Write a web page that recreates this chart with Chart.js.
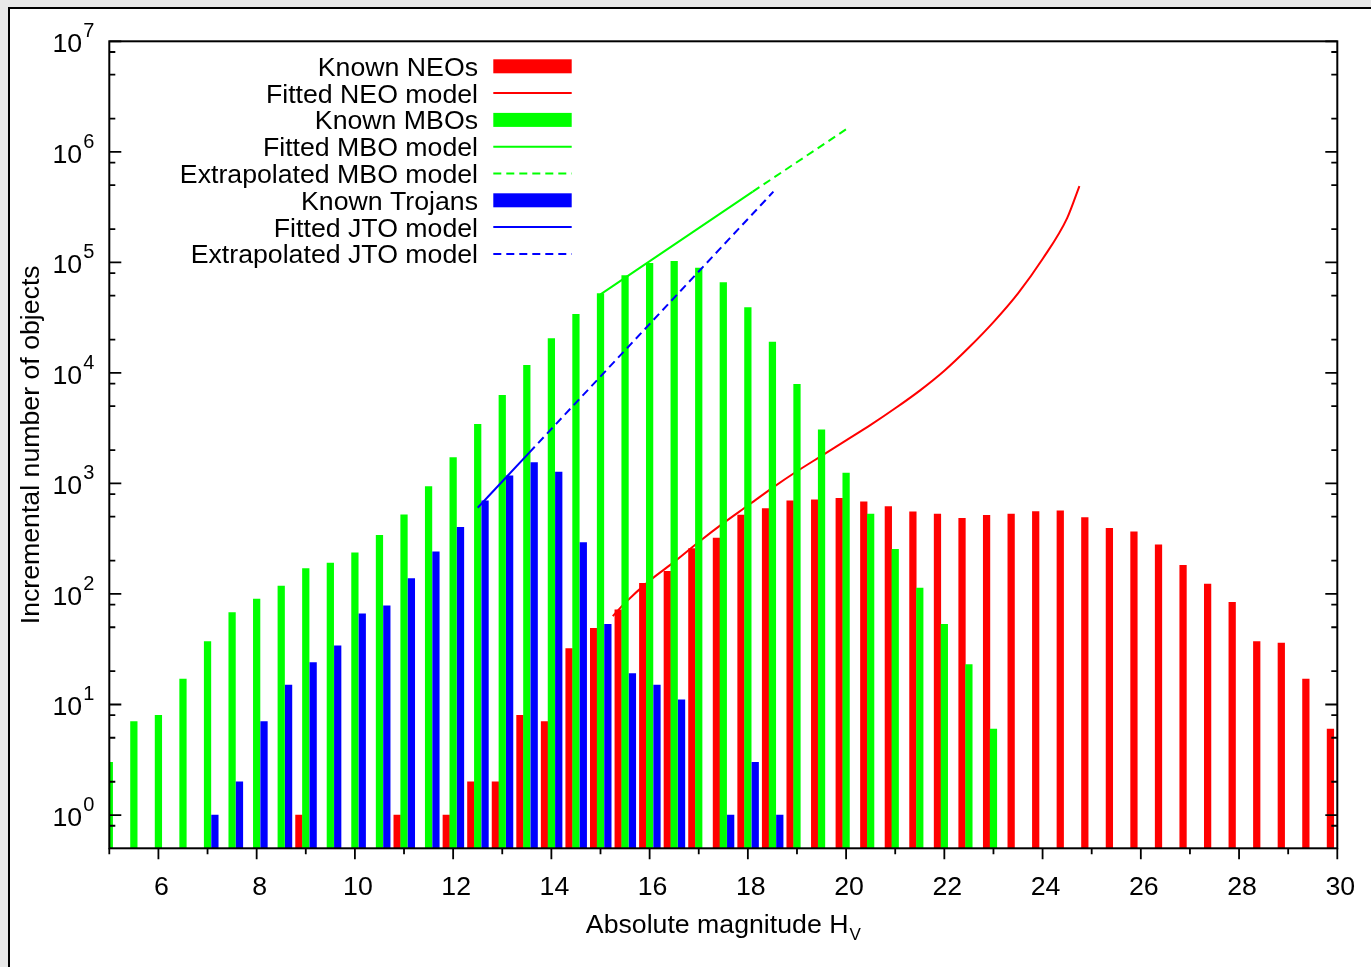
<!DOCTYPE html>
<html>
<head>
<meta charset="utf-8">
<script src="https://cdn.jsdelivr.net/npm/chart.js@4.4.1/dist/chart.umd.min.js"></script>
<style>
  html, body { margin: 0; padding: 0; background: #e8e8e8; width: 1371px; height: 967px; overflow: hidden; }
  #panel { position: absolute; left: 8px; top: 7px; width: 1363px; height: 960px; background: #fff;
           border-left: 2px solid #000; border-top: 2px solid #000; }
  #c { position: absolute; left: 0; top: 0; }
</style>
</head>
<body>
<div id="panel"></div>
<canvas id="c" width="1371" height="967"></canvas>
<script>
// ---------------- data ----------------
const seriesLabels = ['Known NEOs', 'Fitted NEO model', 'Known MBOs', 'Fitted MBO model',
  'Extrapolated MBO model', 'Known Trojans', 'Fitted JTO model', 'Extrapolated JTO model'];

// Known NEOs (bin centre H, count)
const neoH = [9.0, 11.0, 12.0, 12.5, 13.0, 13.5, 14.0, 14.5, 15.0, 15.5, 16.0, 16.5, 17.0, 17.5, 18.0, 18.5,
  19.0, 19.5, 20.0, 20.5, 21.0, 21.5, 22.0, 22.5, 23.0, 23.5, 24.0, 24.5, 25.0, 25.5, 26.0, 26.5, 27.0,
  27.5, 28.0, 28.5, 29.0, 29.5, 30.0];
const neoN = [1, 1, 1, 2, 2, 8, 7, 32, 49, 72, 125, 160, 258, 320, 516, 593,
  695, 709, 735, 680, 617, 552, 527, 484, 515, 527, 557, 565, 492, 393, 364, 278, 182,
  123, 84, 37, 36, 17, 6];

// Known MBOs
const mboH = [5.0, 5.5, 6.0, 6.5, 7.0, 7.5, 8.0, 8.5, 9.0, 9.5, 10.0, 10.5, 11.0, 11.5, 12.0, 12.5,
  13.0, 13.5, 14.0, 14.5, 15.0, 15.5, 16.0, 16.5, 17.0, 17.5, 18.0, 18.5, 19.0, 19.5, 20.0, 20.5,
  21.0, 21.5, 22.0, 22.5, 23.0];
const mboN = [3, 7, 8, 17, 37, 68, 90, 118, 170, 190, 235, 340, 519, 935, 1714, 3430,
  6270, 11700, 20400, 33900, 52100, 76000, 98000, 102000, 89000, 65500, 39000, 19000, 7890, 3050, 1240, 527,
  254, 113, 53, 23, 6];

// Known Jupiter Trojans
const jtoH = [7.0, 7.5, 8.0, 8.5, 9.0, 9.5, 10.0, 10.5, 11.0, 11.5, 12.0, 12.5, 13.0, 13.5, 14.0, 14.5,
  15.0, 15.5, 16.0, 16.5, 17.5, 18.0, 18.5];
const jtoN = [1, 2, 7, 15, 24, 34, 66, 78, 138, 240, 400, 695, 1170, 1545, 1270, 292,
  53, 19, 15, 11, 1, 3, 1];

// Models
const neoModelH = [15.25, 15.5, 16.0, 16.5, 17.0, 17.5, 18.0, 18.5, 19.0, 19.5, 20.0, 20.5, 21.0, 21.5,
  22.0, 22.5, 23.0, 23.5, 24.0, 24.5, 24.75];
const neoModelN = [63, 83, 132, 195, 295, 437, 631, 912, 1288, 1778, 2455, 3388, 4786, 6918,
  10470, 16980, 28840, 52480, 107150, 251190, 489780];
const mboFitH = [15.0, 18.1];
const mboFitN = [51300, 436500];
const mboExtH = [18.1, 20.02];
const mboExtN = [436500, 1620000];
const jtoFitH = [12.5, 13.55];
const jtoFitN = [603, 1900];
const jtoExtH = [13.55, 18.52];
const jtoExtN = [1900, 436000];

// axis ticks
const xTickLabels = [6, 8, 10, 12, 14, 16, 18, 20, 22, 24, 26, 28, 30];
const yTickExponents = [0, 1, 2, 3, 4, 5, 6, 7];
const yMinorMantissas = [2, 5, 8];

// ---------------- helpers ----------------
const FONT = '"Liberation Sans", Arial, Helvetica, sans-serif';
const FS = 26.7;
const RED = '#ff0000', GREEN = '#00ff00', BLUE = '#0000ff';
const pts = (H, N, off) => H.map((h, i) => ({ x: h + (off || 0), y: N[i] }));
const NDS = 8;
function barDS(label, H, N, off, color, idx) {
  return { type: 'bar', label, data: pts(H, N, off), backgroundColor: color, borderWidth: 0,
    barThickness: 6.6, grouped: false, order: NDS - idx };
}
function lineDS(label, H, N, color, dash, idx) {
  return { type: 'line', label, data: pts(H, N), borderColor: color, backgroundColor: color,
    borderWidth: 2, borderDash: dash, pointRadius: 0, fill: false, tension: 0,
    cubicInterpolationMode: 'monotone', order: NDS - idx };
}

const datasets = [
  barDS(seriesLabels[0], neoH, neoN, -0.14, RED, 0),
  lineDS(seriesLabels[1], neoModelH, neoModelN, RED, [], 1),
  barDS(seriesLabels[2], mboH, mboN, 0, GREEN, 2),
  lineDS(seriesLabels[3], mboFitH, mboFitN, GREEN, [], 3),
  lineDS(seriesLabels[4], mboExtH, mboExtN, GREEN, [8, 5], 4),
  barDS(seriesLabels[5], jtoH, jtoN, 0.15, BLUE, 5),
  lineDS(seriesLabels[6], jtoFitH, jtoFitN, BLUE, [], 6),
  lineDS(seriesLabels[7], jtoExtH, jtoExtN, BLUE, [8, 5], 7),
];

// ---------------- frame / ticks / labels / legend plugin ----------------
const gnuplotFrame = {
  id: 'gnuplotFrame',
  afterDraw(chart) {
    const { ctx, chartArea: a, scales: { x, y } } = chart;
    ctx.save();
    ctx.strokeStyle = '#000';
    ctx.lineWidth = 1.8;
    ctx.beginPath();
    // y ticks (inward, both sides)
    yTickExponents.forEach(k => {
      const py = y.getPixelForValue(Math.pow(10, k));
      ctx.moveTo(a.left, py); ctx.lineTo(a.left + 12, py);
      ctx.moveTo(a.right, py); ctx.lineTo(a.right - 12, py);
    });
    for (let k = -1; k <= 6; k++) {
      yMinorMantissas.forEach(m => {
        const v = m * Math.pow(10, k);
        if (v <= y.min || v >= y.max) return;
        const py = y.getPixelForValue(v);
        ctx.moveTo(a.left, py); ctx.lineTo(a.left + 6, py);
        ctx.moveTo(a.right, py); ctx.lineTo(a.right - 6, py);
      });
    }
    // x ticks (outward, bottom only)
    for (let v = Math.ceil(x.min); v <= x.max; v++) {
      const px = x.getPixelForValue(v);
      const len = (v % 2 === 0) ? 11 : 6;
      ctx.moveTo(px, a.bottom); ctx.lineTo(px, a.bottom + len);
    }
    ctx.stroke();
    // frame
    ctx.lineWidth = 2;
    ctx.strokeRect(a.left, a.top, a.right - a.left, a.bottom - a.top);

    // y tick labels 10^k
    ctx.fillStyle = '#000';
    ctx.textBaseline = 'alphabetic';
    yTickExponents.forEach(k => {
      const py = y.getPixelForValue(Math.pow(10, k));
      ctx.font = '20px ' + FONT;
      ctx.textAlign = 'right';
      const sup = String(k);
      const supW = ctx.measureText(sup).width;
      const right = a.left - 15;
      ctx.fillText(sup, right, py - 4);
      ctx.font = FS + 'px ' + FONT;
      ctx.fillText('10', right - supW - 1, py + 11);
    });

    // x axis title with subscript
    const main = 'Absolute magnitude H', sub = 'V';
    ctx.font = FS + 'px ' + FONT;
    const mw = ctx.measureText(main).width;
    ctx.font = '17px ' + FONT;
    const sw = ctx.measureText(sub).width;
    const x0 = (a.left + a.right) / 2 - (mw + sw + 1) / 2;
    ctx.textAlign = 'left';
    ctx.font = FS + 'px ' + FONT;
    ctx.fillText(main, x0, 932.5);
    ctx.font = '17px ' + FONT;
    ctx.fillText(sub, x0 + mw + 1, 940);

    // legend
    const textRight = 478, sx0 = 493.3, sx1 = 571.7, row0 = 66.3, dy = 26.8;
    chart.data.datasets.forEach((ds, i) => {
      const ry = row0 + i * dy;
      ctx.font = FS + 'px ' + FONT;
      ctx.textAlign = 'right';
      ctx.fillStyle = '#000';
      ctx.fillText(ds.label, textRight, ry + 9.5);
      if (ds.type === 'bar') {
        ctx.fillStyle = ds.backgroundColor;
        ctx.fillRect(sx0, ry - 7, sx1 - sx0, 14);
      } else {
        ctx.strokeStyle = ds.borderColor;
        ctx.lineWidth = ds.borderWidth;
        ctx.setLineDash(ds.borderDash || []);
        ctx.beginPath();
        ctx.moveTo(sx0, ry); ctx.lineTo(sx1, ry);
        ctx.stroke();
        ctx.setLineDash([]);
      }
    });
    ctx.restore();
  }
};

Chart.defaults.color = '#000';
Chart.defaults.font.family = FONT;

new Chart(document.getElementById('c'), {
  type: 'bar',
  data: { datasets },
  options: {
    responsive: false,
    animation: false,
    devicePixelRatio: 1,
    layout: { padding: { top: 41.3, right: 33.7, left: 0, bottom: 0 } },
    plugins: { legend: { display: false }, tooltip: { enabled: false } },
    scales: {
      x: {
        type: 'linear', min: 5, max: 30, offset: false,
        grid: { display: false, drawTicks: true, tickLength: 23 }, border: { display: false },
        ticks: {
          stepSize: 1, autoSkip: false, maxRotation: 0, minRotation: 0, padding: 0, labelOffset: 3,
          font: { size: FS }, color: '#000',
          callback: v => xTickLabels.includes(v) ? String(v) : ''
        },
        afterFit: s => { s.height = 118.7; }
      },
      y: {
        type: 'logarithmic', min: 0.5, max: 1e7,
        grid: { display: false, drawTicks: false }, border: { display: false },
        ticks: { display: false },
        title: { display: true, text: 'Incremental number of objects', color: '#000',
                 font: { size: FS }, padding: { top: 16, bottom: 0 } },
        afterFit: s => { s.width = 109.3; }
      }
    }
  },
  plugins: [gnuplotFrame]
});
</script>
</body>
</html>
